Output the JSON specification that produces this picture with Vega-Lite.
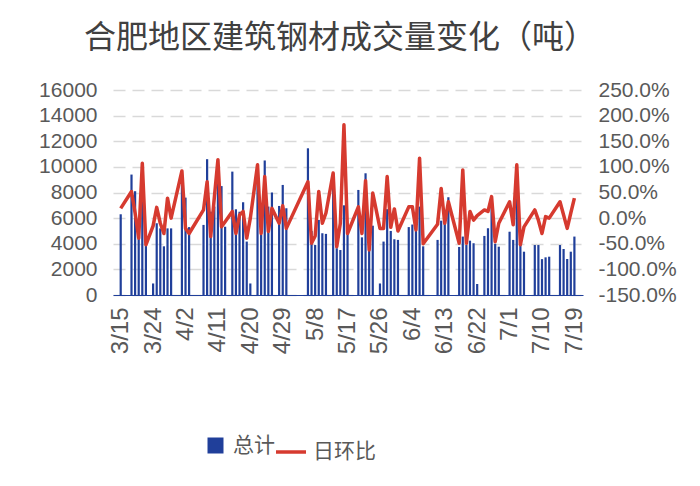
{
  "$schema": "https://vega.github.io/schema/vega-lite/v6.json",
  "autosize": {"type": "none"},
  "width": 470,
  "height": 205,
  "padding": {"left": 113, "top": 90, "right": 117, "bottom": 191},
  "background": "white",
  "config": {
    "font": "Noto Sans CJK SC",
    "view": {"stroke": null},
    "axis": {"labelFont": "Liberation Sans", "labelColor": "#595959", "labelFontSize": 21, "ticks": false, "domain": false, "title": null},
    "legend": {"labelFont": "Noto Sans CJK SC", "labelColor": "#595959", "labelFontSize": 21, "title": null}
  },
  "title": {"text": "合肥地区建筑钢材成交量变化（吨）", "font": "Noto Sans CJK SC", "fontSize": 32, "fontWeight": "normal", "color": "#404040", "anchor": "middle", "frame": "group", "offset": 24, "dx": -8},
  "data": {"values": [
    {"date": "2022-03-15", "total": 6300, "pct": 0.19},
    {"date": "2022-03-18", "total": 9400, "pct": 0.52},
    {"date": "2022-03-19", "total": 8100, "pct": 0.10},
    {"date": "2022-03-20", "total": 4400, "pct": -0.39},
    {"date": "2022-03-21", "total": 10300, "pct": 1.07},
    {"date": "2022-03-22", "total": 4000, "pct": -0.52},
    {"date": "2022-03-24", "total": 900, "pct": -0.15},
    {"date": "2022-03-25", "total": 5600, "pct": 0.21},
    {"date": "2022-03-26", "total": 5200, "pct": -0.10},
    {"date": "2022-03-27", "total": 3800, "pct": -0.30},
    {"date": "2022-03-28", "total": 5200, "pct": 0.39},
    {"date": "2022-03-29", "total": 5200, "pct": 0.00},
    {"date": "2022-04-01", "total": 8900, "pct": 0.92},
    {"date": "2022-04-02", "total": 7600, "pct": -0.20},
    {"date": "2022-04-03", "total": 5300, "pct": -0.30},
    {"date": "2022-04-07", "total": 5470, "pct": 0.16},
    {"date": "2022-04-08", "total": 10600, "pct": 0.71},
    {"date": "2022-04-09", "total": 6500, "pct": -0.36},
    {"date": "2022-04-10", "total": 6900, "pct": 0.40},
    {"date": "2022-04-11", "total": 10400, "pct": 1.14},
    {"date": "2022-04-12", "total": 8500, "pct": -0.17},
    {"date": "2022-04-13", "total": 5330, "pct": -0.07},
    {"date": "2022-04-15", "total": 9630, "pct": 0.13},
    {"date": "2022-04-16", "total": 6690, "pct": -0.30},
    {"date": "2022-04-17", "total": 6500, "pct": 0.06},
    {"date": "2022-04-18", "total": 7240, "pct": 0.13},
    {"date": "2022-04-19", "total": 4170, "pct": -0.39},
    {"date": "2022-04-20", "total": 900, "pct": 0.00},
    {"date": "2022-04-22", "total": 10150, "pct": 1.04},
    {"date": "2022-04-23", "total": 4690, "pct": -0.30},
    {"date": "2022-04-24", "total": 10500, "pct": 0.81},
    {"date": "2022-04-25", "total": 6900, "pct": -0.26},
    {"date": "2022-04-26", "total": 8000, "pct": 0.19},
    {"date": "2022-04-28", "total": 6950, "pct": -0.10},
    {"date": "2022-04-29", "total": 8590, "pct": 0.24},
    {"date": "2022-04-30", "total": 6770, "pct": -0.20},
    {"date": "2022-05-06", "total": 11450, "pct": 0.71},
    {"date": "2022-05-07", "total": 5000, "pct": -0.49},
    {"date": "2022-05-08", "total": 3900, "pct": -0.35},
    {"date": "2022-05-09", "total": 5860, "pct": 0.52},
    {"date": "2022-05-10", "total": 4820, "pct": -0.10},
    {"date": "2022-05-11", "total": 4770, "pct": 0.10},
    {"date": "2022-05-13", "total": 9500, "pct": 0.88},
    {"date": "2022-05-14", "total": 3650, "pct": -0.56},
    {"date": "2022-05-15", "total": 3510, "pct": -0.10},
    {"date": "2022-05-16", "total": 7000, "pct": 1.82},
    {"date": "2022-05-17", "total": 4820, "pct": -0.30},
    {"date": "2022-05-20", "total": 8200, "pct": 0.22},
    {"date": "2022-05-21", "total": 4500, "pct": -0.30},
    {"date": "2022-05-22", "total": 9500, "pct": 0.73},
    {"date": "2022-05-23", "total": 4000, "pct": -0.62},
    {"date": "2022-05-24", "total": 5410, "pct": 0.49},
    {"date": "2022-05-26", "total": 900, "pct": -0.20},
    {"date": "2022-05-27", "total": 4170, "pct": -0.20},
    {"date": "2022-05-28", "total": 6700, "pct": 0.81},
    {"date": "2022-05-29", "total": 5000, "pct": -0.18},
    {"date": "2022-05-30", "total": 4350, "pct": 0.18},
    {"date": "2022-05-31", "total": 4300, "pct": -0.25},
    {"date": "2022-06-03", "total": 5300, "pct": 0.22},
    {"date": "2022-06-04", "total": 5500, "pct": 0.22},
    {"date": "2022-06-05", "total": 5000, "pct": -0.23},
    {"date": "2022-06-06", "total": 6900, "pct": 1.17},
    {"date": "2022-06-07", "total": 3800, "pct": -0.50},
    {"date": "2022-06-11", "total": 4300, "pct": -0.12},
    {"date": "2022-06-12", "total": 5800, "pct": 0.58},
    {"date": "2022-06-13", "total": 5900, "pct": -0.10},
    {"date": "2022-06-14", "total": 7630, "pct": 0.32},
    {"date": "2022-06-17", "total": 3750, "pct": -0.49},
    {"date": "2022-06-18", "total": 4560, "pct": 0.94},
    {"date": "2022-06-19", "total": 3900, "pct": -0.49},
    {"date": "2022-06-20", "total": 4240, "pct": 0.13},
    {"date": "2022-06-21", "total": 4040, "pct": -0.04},
    {"date": "2022-06-22", "total": 860, "pct": 0.05},
    {"date": "2022-06-24", "total": 4610, "pct": 0.16},
    {"date": "2022-06-25", "total": 5210, "pct": 0.13},
    {"date": "2022-06-26", "total": 7600, "pct": 0.42},
    {"date": "2022-06-27", "total": 4000, "pct": -0.46},
    {"date": "2022-06-28", "total": 3770, "pct": -0.10},
    {"date": "2022-07-01", "total": 4940, "pct": 0.32},
    {"date": "2022-07-02", "total": 4300, "pct": -0.13},
    {"date": "2022-07-03", "total": 9200, "pct": 1.04},
    {"date": "2022-07-04", "total": 4040, "pct": -0.52},
    {"date": "2022-07-05", "total": 3380, "pct": -0.17},
    {"date": "2022-07-08", "total": 3900, "pct": 0.16},
    {"date": "2022-07-09", "total": 3900, "pct": -0.04},
    {"date": "2022-07-10", "total": 2800, "pct": -0.30},
    {"date": "2022-07-11", "total": 2940, "pct": 0.03},
    {"date": "2022-07-12", "total": 2990, "pct": 0.00},
    {"date": "2022-07-15", "total": 3900, "pct": 0.32},
    {"date": "2022-07-16", "total": 3590, "pct": 0.06},
    {"date": "2022-07-17", "total": 2810, "pct": -0.20},
    {"date": "2022-07-18", "total": 3380, "pct": 0.10},
    {"date": "2022-07-19", "total": 4560, "pct": 0.39}
  ]},
  "encoding": {
    "x": {
      "field": "date",
      "type": "temporal",
      "scale": {"type": "utc", "domain": [
        {"year": 2022, "month": 3, "date": 14, "hours": 6, "utc": true},
        {"year": 2022, "month": 7, "date": 20, "utc": true}
      ]},
      "axis": {
        "values": [
          {"year": 2022, "month": 3, "date": 15, "utc": true},
          {"year": 2022, "month": 3, "date": 24, "utc": true},
          {"year": 2022, "month": 4, "date": 2, "utc": true},
          {"year": 2022, "month": 4, "date": 11, "utc": true},
          {"year": 2022, "month": 4, "date": 20, "utc": true},
          {"year": 2022, "month": 4, "date": 29, "utc": true},
          {"year": 2022, "month": 5, "date": 8, "utc": true},
          {"year": 2022, "month": 5, "date": 17, "utc": true},
          {"year": 2022, "month": 5, "date": 26, "utc": true},
          {"year": 2022, "month": 6, "date": 4, "utc": true},
          {"year": 2022, "month": 6, "date": 13, "utc": true},
          {"year": 2022, "month": 6, "date": 22, "utc": true},
          {"year": 2022, "month": 7, "date": 1, "utc": true},
          {"year": 2022, "month": 7, "date": 10, "utc": true},
          {"year": 2022, "month": 7, "date": 19, "utc": true}
        ],
        "format": "%-m/%-d",
        "labelAngle": 270,
        "labelPadding": 12,
        "labelFontSize": 24,
        "labelOverlap": false,
        "grid": false,
        "domain": true,
        "domainColor": "#203F9A",
        "domainWidth": 1.2
      }
    }
  },
  "layer": [
    {
      "mark": {"type": "bar", "size": 2.2},
      "encoding": {
        "y": {
          "field": "total",
          "type": "quantitative",
          "scale": {"domain": [0, 16000], "nice": false},
          "axis": {
            "values": [0, 2000, 4000, 6000, 8000, 10000, 12000, 14000, 16000],
            "format": "d",
            "labelPadding": 16,
            "grid": true,
            "gridDash": [12, 7],
            "gridColor": "#d9d9d9",
            "gridWidth": 1.3
          }
        },
        "fill": {
          "datum": "总计",
          "type": "nominal",
          "scale": {"range": ["#203F9A"]},
          "legend": {"orient": "none", "legendX": 92, "legendY": 345, "symbolType": "square", "symbolSize": 256, "symbolStrokeWidth": 0, "labelOffset": 7}
        }
      }
    },
    {
      "mark": {"type": "line", "strokeWidth": 3.5, "strokeJoin": "round", "interpolate": "linear"},
      "encoding": {
        "y": {
          "field": "pct",
          "type": "quantitative",
          "scale": {"domain": [-1.5, 2.5], "nice": false},
          "axis": {
            "orient": "right",
            "values": [-1.5, -1.0, -0.5, 0, 0.5, 1.0, 1.5, 2.0, 2.5],
            "labelExpr": "replace(format(datum.value, '.1%'), '\u2212', '-')",
            "labelPadding": 15,
            "grid": false
          }
        },
        "stroke": {
          "datum": "日环比",
          "type": "nominal",
          "scale": {"range": ["#D63A2F"]},
          "legend": {"orient": "none", "legendX": 161, "legendY": 345, "symbolType": "stroke", "symbolSize": 900, "symbolStrokeWidth": 3.5, "labelOffset": 5}
        }
      }
    }
  ],
  "resolve": {"scale": {"y": "independent", "fill": "independent", "stroke": "independent"}}
}
